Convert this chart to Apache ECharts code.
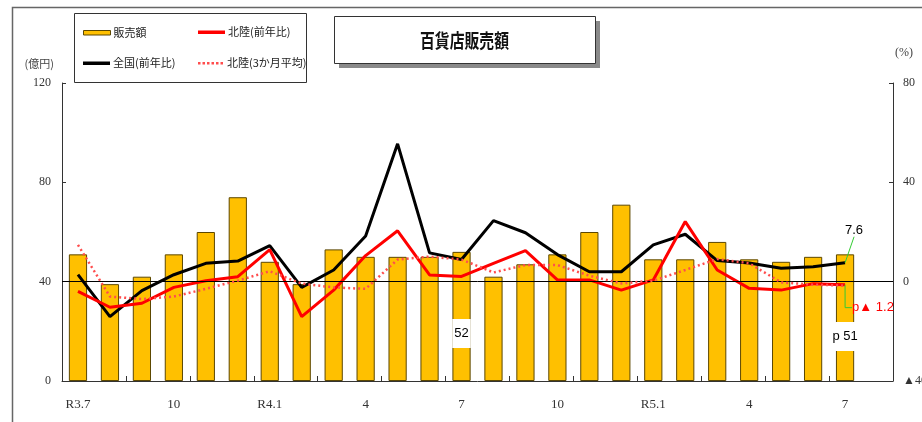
<!DOCTYPE html>
<html>
<head>
<meta charset="utf-8">
<script src="https://cdn.jsdelivr.net/npm/echarts@6/dist/echarts.min.js"></script>
<style>
  html, body { margin: 0; padding: 0; background: #fff; }
  #chart { width: 922px; height: 422px; }
</style>
</head>
<body>
<div id="chart"></div>
<script>
// Monthly slots (the trailing blank slot keeps room before the right axis)
const months = ['R3.7','8','9','10','11','12','R4.1','2','3','4','5','6','7','8','9','10','11','12','R5.1','2','3','4','5','6','7',''];

// 販売額 (億円)
const sales = [51,39,42,51,60,74,48,39,53,50,50,50,52,42,47,51,60,71,49,49,56,49,48,50,51];

// 全国 前年比 (%)
const nationalYoY = [2.8,-14.1,-3.6,2.8,7.4,8.3,14.5,-2.3,4.7,18.4,55.5,11.6,8.9,24.6,19.7,10.9,4.0,4.0,14.8,19.1,8.5,7.5,5.4,6.0,7.6];

// 北陸 前年比 (%)
const hokurikuYoY = [-3.9,-10.3,-8.7,-2.3,0.4,2.0,12.9,-14.1,-3.4,10.5,20.5,2.7,2.1,7.4,12.5,0.7,0.7,-3.4,0.7,24.2,4.7,-2.7,-3.4,-0.8,-1.2];

// 北陸 3か月平均 (%)
const hokuriku3M = [14.8,-6.0,-7.0,-6.0,-2.9,0.4,4.2,-0.8,-2.3,-2.9,8.9,10.1,8.9,3.7,6.7,6.7,2.4,-0.7,0.4,4.7,9.1,7.4,-0.3,-1.2,-1.6];

// Left / right axis ticks
const leftTicks = { min: 0, max: 120, step: 40 };
const rightTicks = { min: -40, max: 80, step: 40 };

const serif = "'Liberation Serif', 'DejaVu Serif', serif";
const narrow = "'Liberation Sans Narrow', 'Liberation Sans', 'Noto Sans CJK JP', sans-serif";
const cjk = "'Noto Sans CJK JP', sans-serif";
const last = sales.length - 1;
const GREEN = '#33cc33';

// bars: the flagged months carry a value box
const barData = sales.map((v, i) => {
  if (i === 12) {
    return { value: v, label: { show: true, position: 'insideBottom', distance: 33,
      formatter: '{c}', backgroundColor: '#fff', padding: [8, 2], color: '#000',
      fontSize: 13, fontFamily: narrow } };
  }
  if (i === last) {
    return { value: v, label: { show: true, position: 'insideBottom', distance: 30,
      formatter: 'p {c}', backgroundColor: '#fff', padding: [8, 1], color: '#000',
      fontSize: 13, fontFamily: narrow } };
  }
  return v;
});

// latest month of each ratio line carries its value label
const nationalData = nationalYoY.map((v, i) => i === last
  ? { value: v, symbol: 'circle', symbolSize: 0.1,
      label: { show: true, position: 'top', formatter: '{c}', color: '#000',
               fontSize: 13, fontFamily: narrow } }
  : v);

const hokurikuData = hokurikuYoY.map((v, i) => i === last
  ? { value: v, symbol: 'circle', symbolSize: 0.1,
      label: { show: true, position: 'right',
               formatter: p => 'p▲ ' + Math.abs(p.value).toFixed(1), color: '#ff0000',
               fontSize: 13, fontFamily: narrow } }
  : v);

// legend swatches
const ICON_BAR = 'path://M0,0 M0,14 M0,5 L27,5 L27,9.5 L0,9.5 Z';
const ICON_LINE = 'path://M0,0 M0,14 M0,5.5 L27,5.5 L27,9 L0,9 Z';
const ICON_DOTS = 'path://M0,0 M0,14 M0,6 L2.5,6 L2.5,8.5 L0,8.5 Z M4.5,6 L7,6 L7,8.5 L4.5,8.5 Z M9,6 L11.5,6 L11.5,8.5 L9,8.5 Z M13.5,6 L16,6 L16,8.5 L13.5,8.5 Z M18,6 L20.5,6 L20.5,8.5 L18,8.5 Z M22.5,6 L25,6 L25,8.5 L22.5,8.5 Z';

function legendAt(left, top, name, icon, lineItem) {
  return {
    left: left, top: top, padding: 0,
    itemWidth: 27, itemHeight: 14, selectedMode: false,
    data: [{ name: name, icon: icon }],
    itemStyle: lineItem ? { borderWidth: 0 } : { borderWidth: 1, borderColor: '#5c4700' },
    textStyle: { fontFamily: cjk, fontSize: 11, color: '#222', padding: [0, 0, 0, -2] }
  };
}

const chart = echarts.init(document.getElementById('chart'));
chart.setOption({
  animation: false,
  backgroundColor: '#fff',
  graphic: [
    // outer frame
    { type: 'rect', left: 10, top: 5, shape: { width: 940, height: 416 },
      style: { fill: 'none', stroke: '#666', lineWidth: 1.5 }, silent: true, z: -1 },
    // legend frame
    { type: 'rect', left: 74, top: 13, shape: { width: 232, height: 69 },
      style: { fill: '#fff', stroke: '#333', lineWidth: 1 }, silent: true, z: 0 },
    // title box with drop shadow
    { type: 'rect', left: 339, top: 21, shape: { width: 261, height: 47 },
      style: { fill: '#8a8a8a' }, silent: true, z: 0 },
    { type: 'rect', left: 334, top: 16, shape: { width: 261, height: 47 },
      style: { fill: '#fff', stroke: '#333', lineWidth: 1 }, silent: true, z: 1 },
    { type: 'text', x: 464.5, y: 40.5, scaleX: 0.78, z: 2, silent: true,
      style: { text: '百貨店販売額', align: 'center', verticalAlign: 'middle',
               font: "bold 19px 'Noto Sans CJK JP', sans-serif", fill: '#111' } }
  ],
  legend: [
    legendAt(83, 25, '販売額', ICON_BAR, false),
    legendAt(198, 25, '北陸(前年比)', ICON_LINE, true),
    legendAt(83, 56, '全国(前年比)', ICON_LINE, true),
    legendAt(198, 56, '北陸(3か月平均)', ICON_DOTS, true)
  ],
  grid: { left: 62, right: 29, top: 83, bottom: 41, containLabel: false, outerBoundsMode: 'none' },
  xAxis: {
    type: 'category',
    data: months,
    boundaryGap: true,
    axisLine: { lineStyle: { color: '#333', width: 1 } },
    axisTick: { show: true, inside: true, interval: 1, length: 5, lineStyle: { color: '#333' } },
    axisLabel: { interval: 2, margin: 17, fontFamily: serif, fontSize: 13, color: '#333' }
  },
  yAxis: [{
    type: 'value', position: 'left',
    min: leftTicks.min, max: leftTicks.max, interval: leftTicks.step,
    name: '(億円)', nameLocation: 'end', nameGap: 14,
    nameTextStyle: { align: 'right', padding: [0, 8, 0, 0], fontFamily: cjk, fontSize: 11, color: '#444' },
    axisLine: { show: true, lineStyle: { color: '#333' } },
    axisTick: { show: true, inside: true, length: 4, lineStyle: { color: '#333' } },
    splitLine: { show: false },
    axisLabel: { margin: 11, fontFamily: serif, fontSize: 12, color: '#333' }
  }, {
    type: 'value', position: 'right',
    min: rightTicks.min, max: rightTicks.max, interval: rightTicks.step,
    name: '(%)', nameLocation: 'end', nameGap: 24,
    nameTextStyle: { align: 'left', padding: [0, 0, 0, 2], fontFamily: serif, fontSize: 12, color: '#444' },
    axisLine: { show: true, lineStyle: { color: '#333' } },
    axisTick: { show: true, inside: true, length: 4, lineStyle: { color: '#333' } },
    splitLine: { show: false },
    axisLabel: {
      margin: 10, fontFamily: serif, fontSize: 12, color: '#333',
      formatter: v => v < 0 ? '▲' + Math.abs(v) : String(v)
    }
  }],
  series: [{
    name: '販売額',
    type: 'bar',
    yAxisIndex: 0,
    barWidth: '57%',
    data: barData,
    itemStyle: { color: '#FFC000', borderColor: '#5c4700', borderWidth: 1 }
  }, {
    name: '全国(前年比)',
    type: 'line',
    yAxisIndex: 1,
    data: nationalData,
    symbol: 'none',
    lineStyle: { color: '#000', width: 3 },
    itemStyle: { color: '#000' },
    labelLine: { show: true, lineStyle: { color: GREEN, width: 1 } },
    labelLayout: p => p.dataIndex === last ? { dx: 9, dy: -21 } : {},
    markLine: {
      silent: true, symbol: 'none', label: { show: false },
      lineStyle: { color: '#000', width: 1, type: 'solid' },
      data: [{ yAxis: 0 }]
    },
    z: 3
  }, {
    name: '北陸(前年比)',
    type: 'line',
    yAxisIndex: 1,
    data: hokurikuData,
    symbol: 'none',
    lineStyle: { color: '#ff0000', width: 3 },
    itemStyle: { color: '#ff0000' },
    labelLine: { show: true, length2: 7, lineStyle: { color: GREEN, width: 1 } },
    labelLayout: p => p.dataIndex === last ? { dx: 2, dy: 23 } : {},
    z: 4
  }, {
    name: '北陸(3か月平均)',
    type: 'line',
    yAxisIndex: 1,
    data: hokuriku3M,
    symbol: 'none',
    lineStyle: { color: '#ff4d4d', width: 2.5, type: [2, 3] },
    itemStyle: { color: '#ff4d4d' },
    z: 5
  }]
});
</script>
</body>
</html>
